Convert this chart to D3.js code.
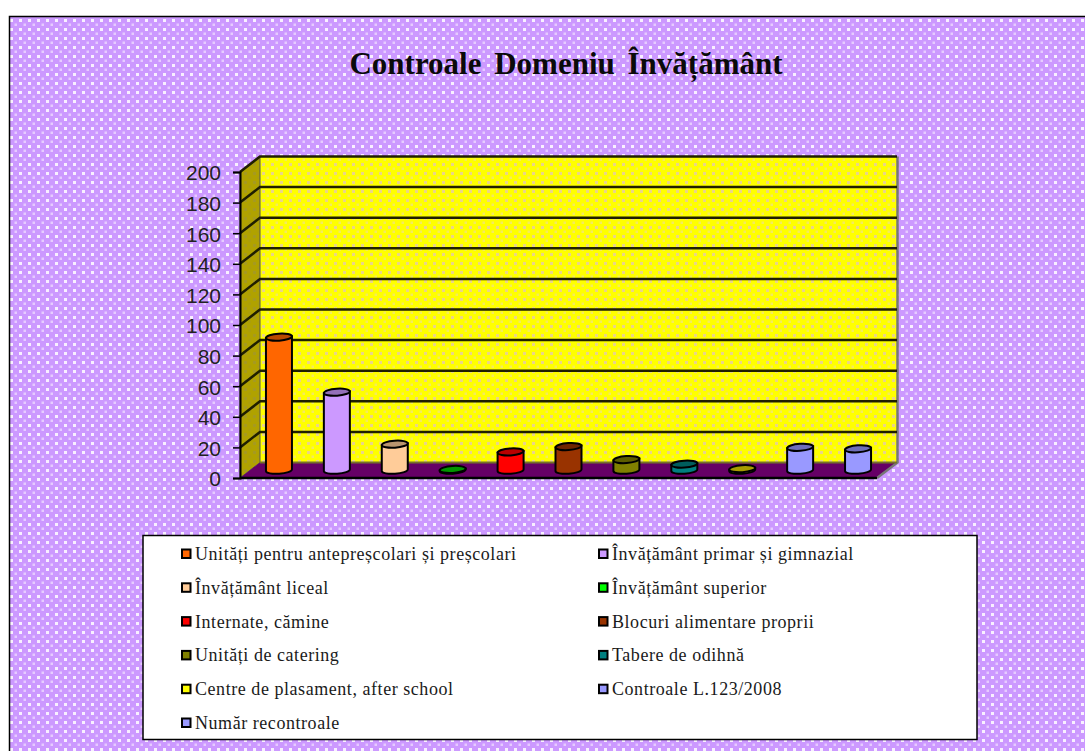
<!DOCTYPE html>
<html>
<head>
<meta charset="utf-8">
<script src="https://cdn.jsdelivr.net/npm/d3@7"></script>
<style>
  html, body { margin: 0; padding: 0; background: #fff; }
  svg { display: block; }
</style>
</head>
<body>
<div id="chart"></div>
<script>
const categories = [
    "Unități pentru antepreșcolari și preșcolari",
    "Învățământ primar și gimnazial",
    "Învățământ liceal",
    "Învățământ superior",
    "Internate, cămine",
    "Blocuri alimentare proprii",
    "Unități de catering",
    "Tabere de odihnă",
    "Centre de plasament, after school",
    "Controale L.123/2008",
    "Număr recontroale"
];
const values = [87, 51, 17, 0.5, 12, 15.5, 7, 4, 1, 15, 14];
const colors = ["#FF6600", "#CC99FF", "#FFCC99", "#00CC00", "#FF0000", "#993300", "#808000", "#008080", "#E6D800", "#9999FF", "#9999FF"];
const legendColors = ["#FF6600", "#CC99FF", "#FFCC99", "#00FF00", "#FF0000", "#993300", "#808000", "#008080", "#FFFF00", "#9999FF", "#9999FF"];
const yTicks = [0, 20, 40, 60, 80, 100, 120, 140, 160, 180, 200];

const width = 1085, height = 751;
const depthX = 20, depthY = -15.5;

const svg = d3.select("#chart").append("svg")
    .attr("width", width)
    .attr("height", height);

const defs = svg.append("defs");

// Dither patterns of the original chart
function dither(id, base, dot, dot2) {
    const p = defs.append("pattern")
        .attr("id", id)
        .attr("patternUnits", "userSpaceOnUse")
        .attr("width", 9).attr("height", 9);
    p.append("rect").attr("width", 9).attr("height", 9).attr("fill", base);
    p.append("rect").attr("x", 1).attr("y", 1).attr("width", 3).attr("height", 3).attr("fill", dot);
    p.append("rect").attr("x", 5.5).attr("y", 5.5).attr("width", 2.5).attr("height", 2.5).attr("fill", dot2);
}
dither("bgDots", "#CC99FF", "#F8F0FF", "#E6CCFF");
dither("wallDots", "#FFFF00", "#EAD488", "#F4EA60");
dither("sideDots", "#B0A200", "#A69A20", "#AA9D10");

// Background
svg.append("rect").attr("x", 9).attr("y", 16)
    .attr("width", width - 9).attr("height", height - 16)
    .attr("fill", "url(#bgDots)");
svg.append("path")
    .attr("d", `M9.5,${height}V16.5H${width}`)
    .attr("fill", "none").attr("stroke", "#000").attr("stroke-width", 1.5);

// Title
svg.append("text")
    .attr("x", 566).attr("y", 74)
    .attr("text-anchor", "middle")
    .attr("font-family", "'Liberation Serif', serif")
    .attr("font-weight", "bold")
    .attr("font-size", 31)
    .attr("word-spacing", 5)
    .attr("fill", "#0a0a0a")
    .text("Controale Domeniu Învățământ");

// Scales
const x = d3.scaleBand().domain(categories).range([240, 877]);
const y = d3.scaleLinear().domain([0, 200]).range([478, 172]);

const y0 = y(0), yTop = y(200);
const left = x.range()[0], right = x.range()[1];

// Back wall, side wall, floor
svg.append("rect")
    .attr("x", left + depthX).attr("y", yTop + depthY)
    .attr("width", right - left).attr("height", y0 - yTop)
    .attr("fill", "url(#wallDots)");
svg.append("path")
    .attr("d", `M${left},${y0}V${yTop}L${left + depthX},${yTop + depthY}V${y0 + depthY}Z`)
    .attr("fill", "url(#sideDots)").attr("stroke", "#555").attr("stroke-width", 1);
svg.append("path")
    .attr("d", `M${left},${y0}L${left + depthX},${y0 + depthY}H${right + depthX}L${right},${y0}Z`)
    .attr("fill", "#660066");
svg.append("path")
    .attr("d", `M${right + depthX + 0.5},${yTop + depthY}V${y0 + depthY}L${right},${y0}`)
    .attr("fill", "none").attr("stroke", "#777").attr("stroke-width", 2.5);
svg.append("path")
    .attr("d", `M${left + depthX},${y0 + depthY}H${right + depthX}`)
    .attr("stroke", "#77702a").attr("stroke-width", 2);
svg.append("path")
    .attr("d", `M${left},${y0}H${right}`)
    .attr("stroke", "#000").attr("stroke-width", 2.5);

// Gridlines on the walls
svg.append("g").selectAll("path").data(yTicks.filter(d => d > 0)).join("path")
    .attr("d", d => `M${left},${y(d)}L${left + depthX},${y(d) + depthY}H${right + depthX}`)
    .attr("fill", "none").attr("stroke", "#1f1f00").attr("stroke-width", 2.5);

// Y axis
const axis = svg.append("g")
    .attr("transform", `translate(${left},0)`)
    .call(d3.axisLeft(y).tickValues(yTicks).tickSize(7).tickPadding(12).tickFormat(d3.format("d")));
axis.select(".domain").attr("stroke", "#000").attr("stroke-width", 2);
axis.selectAll(".tick line").attr("stroke", "#000").attr("stroke-width", 1.5);
axis.selectAll("text")
    .attr("dy", "0.38em")
    .attr("font-family", "'Liberation Sans', Arial, sans-serif")
    .attr("font-size", 21)
    .attr("fill", "#222");

// Cylinders
const rx = 13, ry = 3.5, tilt = -4;
const slope = rx * Math.sin(-tilt * Math.PI / 180);
const baseY = y0 + depthY / 2;
const cylinders = svg.append("g").selectAll("g").data(categories).join("g")
    .attr("transform", d => `translate(${x(d) + x.bandwidth() / 2 + depthX / 2},0)`);

cylinders.each(function (d, i) {
    const g = d3.select(this);
    const top = baseY - (y(0) - y(values[i]));
    const c = d3.color(colors[i]);
    g.append("path")
        .attr("d", `M${-rx},${top + slope}V${baseY + slope}A${rx},${ry} ${tilt} 0 0 ${rx},${baseY - slope}V${top - slope}Z`)
        .attr("fill", colors[i])
        .attr("stroke", "#000").attr("stroke-width", 2);
    g.append("ellipse")
        .attr("cx", 0).attr("cy", top)
        .attr("rx", rx).attr("ry", ry)
        .attr("transform", `rotate(${tilt} 0 ${top})`)
        .attr("fill", c.darker(0.9))
        .attr("stroke", "#000").attr("stroke-width", 2);
});

// Legend
const legendX = 143, legendY = 535.5;
svg.append("rect")
    .attr("x", legendX).attr("y", legendY)
    .attr("width", 834).attr("height", 204)
    .attr("fill", "#fff").attr("stroke", "#000").attr("stroke-width", 1.5);

const legendRow = d3.scalePoint().domain(d3.range(6)).range([554, 723]);
const legendCol = d3.scalePoint().domain([0, 1]).range([182, 599]);

const items = svg.append("g").selectAll("g").data(categories).join("g")
    .attr("transform", (d, i) => `translate(${legendCol(i % 2)},${legendRow(Math.floor(i / 2))})`);
items.append("rect")
    .attr("x", 0).attr("y", -4.5).attr("width", 8.5).attr("height", 8.5)
    .attr("fill", (d, i) => legendColors[i])
    .attr("stroke", "#000").attr("stroke-width", 2);
items.append("text")
    .attr("x", 13).attr("y", 6)
    .attr("font-family", "'Liberation Serif', serif")
    .attr("font-size", 18)
    .attr("letter-spacing", 0.55)
    .attr("fill", "#1a1a1a")
    .text(d => d);
</script>
</body>
</html>
